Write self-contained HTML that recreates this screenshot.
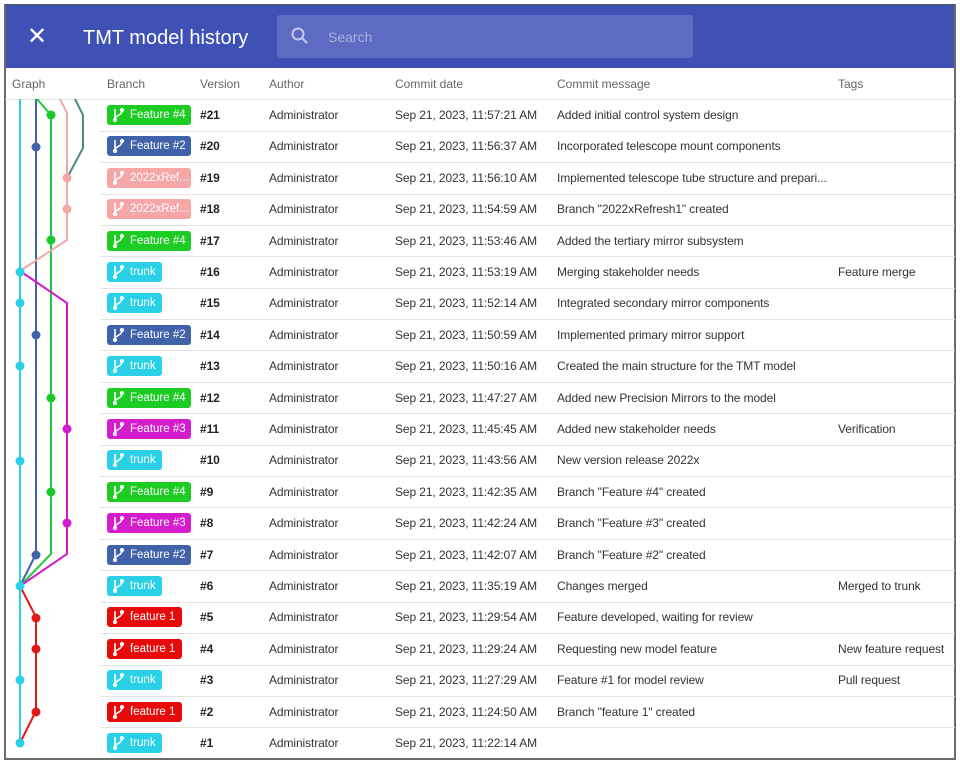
<!DOCTYPE html>
<html><head><meta charset="utf-8"><style>
*{margin:0;padding:0;box-sizing:border-box}
body{width:960px;height:762px;background:#fff;font-family:"Liberation Sans",Arial,sans-serif;position:relative;overflow:hidden}
.frame{position:absolute;left:4px;top:4px;width:952px;height:756px;border:2px solid #6a6a6a;border-top:1px solid #555}
.hdr{position:absolute;left:5px;top:5px;width:950px;height:63px;background:#3f51b5}
.x{position:absolute;left:22px;top:19px;color:#fff;font-size:24px;line-height:26px}
.title{position:absolute;left:78px;top:21px;color:#fff;font-size:20px;line-height:24px}
.search{position:absolute;left:272px;top:10px;width:416px;height:43px;background:#5d6bc2;border-radius:3px}
.search span{position:absolute;left:51px;top:14px;color:#aab2e0;font-size:14px}
.colh{position:absolute;top:77px;font-size:12px;color:#666}
.sep{position:absolute;left:100px;width:855px;height:1px;background:#e2e2e2}
.t{position:absolute;font-size:12px;color:#333;line-height:14px;letter-spacing:-0.1px}
.b{position:absolute;left:107px;height:20px;border-radius:3px;color:#fff;font-size:11.5px;line-height:20px;padding-left:23px;white-space:nowrap;overflow:hidden}
.b svg{position:absolute;left:5px;top:3px}
</style></head><body>
<div class="hdr"><div class="x">✕</div><div class="title">TMT model history</div>
<div class="search"><svg style="position:absolute;left:14px;top:12px" width="18" height="18"><circle cx="7" cy="7" r="5.5" stroke="#c4c9ee" stroke-width="2" fill="none"/><line x1="11" y1="11" x2="16" y2="16" stroke="#c4c9ee" stroke-width="2.2"/></svg><span>Search</span></div></div>
<div class="frame"></div>
<div class="colh" style="left:12px">Graph</div>
<div class="colh" style="left:107px">Branch</div>
<div class="colh" style="left:200px">Version</div>
<div class="colh" style="left:269px">Author</div>
<div class="colh" style="left:395px">Commit date</div>
<div class="colh" style="left:557px">Commit message</div>
<div class="colh" style="left:838px">Tags</div>
<div class="sep" style="top:99px;left:5px;width:950px"></div>
<svg style="position:absolute;left:0;top:0" width="100" height="762">
<g fill="none" stroke-width="2">
<line x1="20" y1="99" x2="20" y2="743" stroke="#2ad0e6"/>
<polyline points="36,99 36,554 20,586" stroke="#4063a8"/>
<polyline points="37,99 51,115 51,554 20,586" stroke="#22c93a"/>
<polyline points="60,99 67,113 67,240 20,271" stroke="#f3a8a8"/>
<polyline points="75,99 83,115 83,148 67,178" stroke="#4f8a86"/>
<polyline points="20,271 67,303 67,554 20,586" stroke="#d21ccc"/>
<polyline points="20,586 36,617 36,711 20,743" stroke="#e01818"/>
</g>
<g>
<circle cx="51" cy="115" r="4.5" fill="#18c92a"/>
<circle cx="36" cy="147" r="4.5" fill="#4063a8"/>
<circle cx="67" cy="178" r="4.5" fill="#f3a8a8"/>
<circle cx="67" cy="209" r="4.5" fill="#f3a8a8"/>
<circle cx="51" cy="240" r="4.5" fill="#18c92a"/>
<circle cx="20" cy="272" r="4.5" fill="#2ad0e6"/>
<circle cx="20" cy="303" r="4.5" fill="#2ad0e6"/>
<circle cx="36" cy="335" r="4.5" fill="#4063a8"/>
<circle cx="20" cy="366" r="4.5" fill="#2ad0e6"/>
<circle cx="51" cy="398" r="4.5" fill="#18c92a"/>
<circle cx="67" cy="429" r="4.5" fill="#d21ccc"/>
<circle cx="20" cy="461" r="4.5" fill="#2ad0e6"/>
<circle cx="51" cy="492" r="4.5" fill="#18c92a"/>
<circle cx="67" cy="523" r="4.5" fill="#d21ccc"/>
<circle cx="36" cy="555" r="4.5" fill="#4063a8"/>
<circle cx="20" cy="586" r="4.5" fill="#2ad0e6"/>
<circle cx="36" cy="618" r="4.5" fill="#e01818"/>
<circle cx="36" cy="649" r="4.5" fill="#e01818"/>
<circle cx="20" cy="680" r="4.5" fill="#2ad0e6"/>
<circle cx="36" cy="712" r="4.5" fill="#e01818"/>
<circle cx="20" cy="743" r="4.5" fill="#2ad0e6"/>
</g></svg>
<div id="rows"></div>
<script>
var R=[
["Feature #4","#21","11:57:21","Added initial control system design",""],
["Feature #2","#20","11:56:37","Incorporated telescope mount components",""],
["2022xRef...","#19","11:56:10","Implemented telescope tube structure and prepari...",""],
["2022xRef...","#18","11:54:59","Branch \"2022xRefresh1\" created",""],
["Feature #4","#17","11:53:46","Added the tertiary mirror subsystem",""],
["trunk","#16","11:53:19","Merging stakeholder needs","Feature merge"],
["trunk","#15","11:52:14","Integrated secondary mirror components",""],
["Feature #2","#14","11:50:59","Implemented primary mirror support",""],
["trunk","#13","11:50:16","Created the main structure for the TMT model",""],
["Feature #4","#12","11:47:27","Added new Precision Mirrors to the model",""],
["Feature #3","#11","11:45:45","Added new stakeholder needs","Verification"],
["trunk","#10","11:43:56","New version release 2022x",""],
["Feature #4","#9","11:42:35","Branch \"Feature #4\" created",""],
["Feature #3","#8","11:42:24","Branch \"Feature #3\" created",""],
["Feature #2","#7","11:42:07","Branch \"Feature #2\" created",""],
["trunk","#6","11:35:19","Changes merged","Merged to trunk"],
["feature 1","#5","11:29:54","Feature developed, waiting for review",""],
["feature 1","#4","11:29:24","Requesting new model feature","New feature request"],
["trunk","#3","11:27:29","Feature #1 for model review","Pull request"],
["feature 1","#2","11:24:50","Branch \"feature 1\" created",""],
["trunk","#1","11:22:14","",""]];
var C={"Feature #4":["#1ccc22",84],"Feature #2":["#3f62a8",84],"Feature #3":["#d41ccc",84],"2022xRef...":["#f5a7a7",84],"trunk":["#2ad0e6",55],"feature 1":["#e60a0a",75]};
var h="";
var icon='<svg width="13" height="14"><g fill="none" stroke="#fff" stroke-width="1.6"><line x1="3" y1="1" x2="3" y2="12"/><path d="M10 2 C10 8 3 7 3 11"/><circle cx="3" cy="12" r="1.3"/><circle cx="10" cy="2" r="1.3"/></g></svg>';
for(var i=0;i<R.length;i++){var y=115+i*31.4,r=R[i],c=C[r[0]];
h+='<div class="b" style="top:'+(y-10)+'px;width:'+c[1]+'px;background:'+c[0]+'">'+icon+r[0]+'</div>';
h+='<div class="t" style="left:200px;top:'+(y-7)+'px;font-weight:bold;color:#222">'+r[1]+'</div>';
h+='<div class="t" style="left:269px;top:'+(y-7)+'px">Administrator</div>';
h+='<div class="t" style="left:395px;top:'+(y-7)+'px">Sep 21, 2023, '+r[2]+' AM</div>';
h+='<div class="t" style="left:557px;top:'+(y-7)+'px">'+r[3]+'</div>';
h+='<div class="t" style="left:838px;top:'+(y-7)+'px">'+r[4]+'</div>';
if(i<R.length-1)h+='<div class="sep" style="top:'+Math.round(y+15.7)+'px"></div>';}
document.getElementById("rows").innerHTML=h;
</script>
</body></html>
